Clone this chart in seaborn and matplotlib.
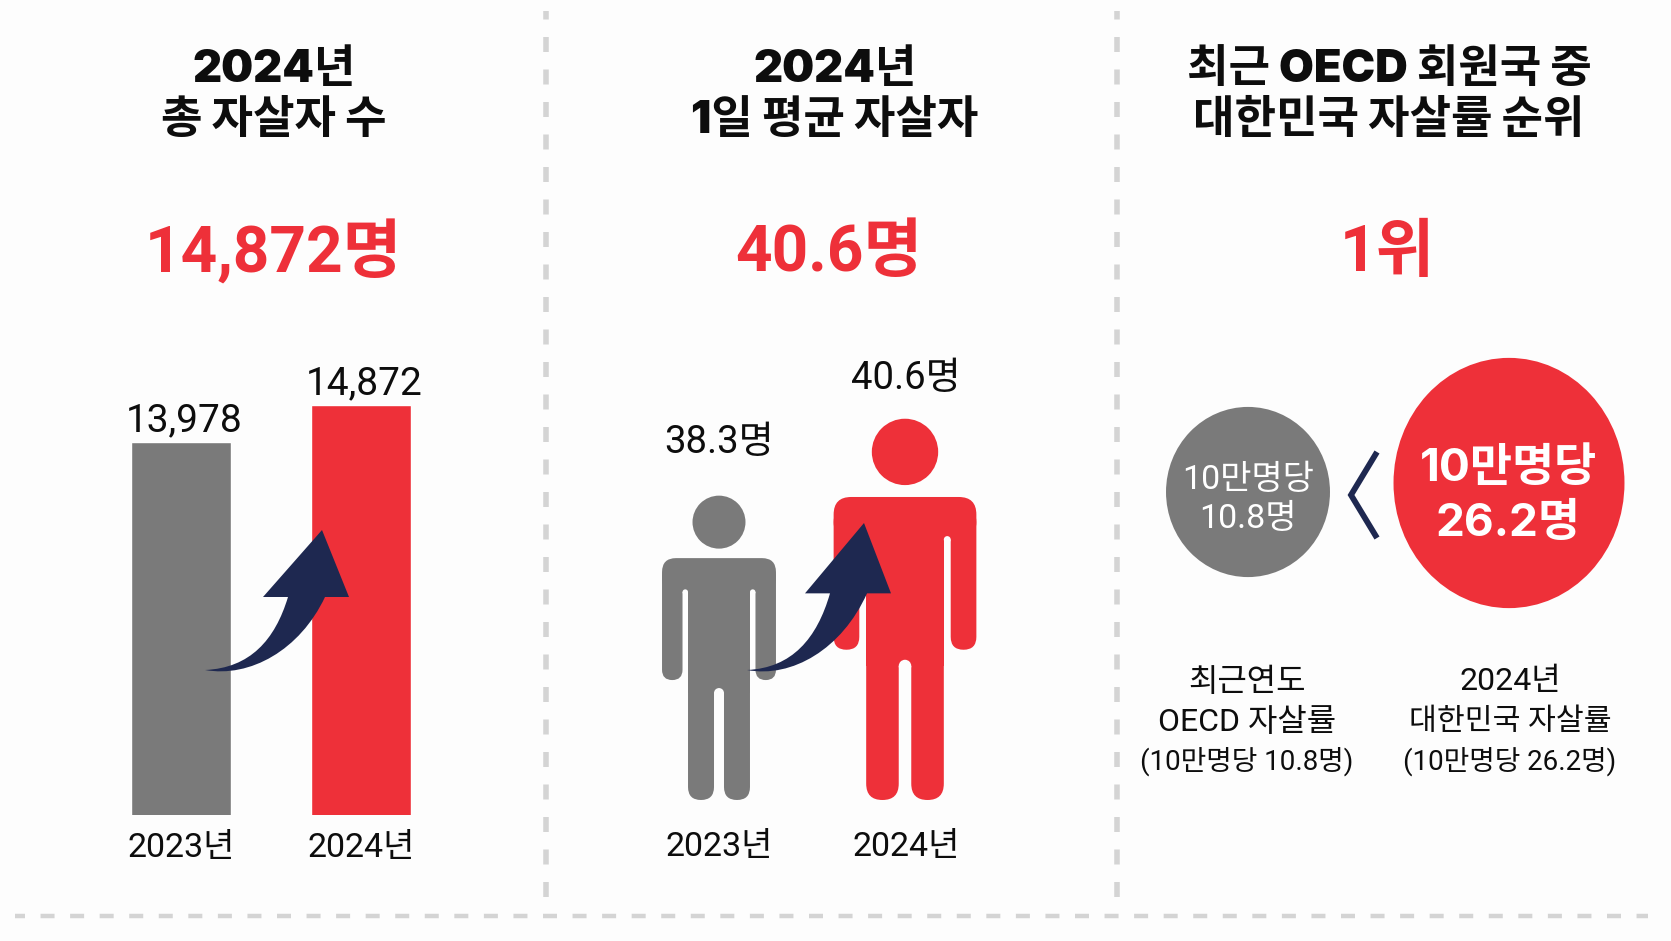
import numpy as np
import pandas as pd
import matplotlib.pyplot as plt
import seaborn as sns
from matplotlib.patches import Circle, Ellipse, FancyBboxPatch, PathPatch, Rectangle
from matplotlib.path import Path

sns.set_theme(style="white")
plt.rcParams["font.family"] = ["Noto Sans CJK KR", "DejaVu Sans"]

years = ["2023년", "2024년"]
total_suicides = [13978, 14872]
daily_suicides = [38.3, 40.6]
oecd_rate = 10.8
korea_rate = 26.2
titles = [["2024년", "총 자살자 수"], ["2024년", "1일 평균 자살자"],
          ["최근 OECD 회원국 중", "대한민국 자살률 순위"]]
headlines = ["14,872명", "40.6명", "1위"]
caption_oecd = ["최근연도", "OECD 자살률", "(10만명당 10.8명)"]
caption_korea = ["2024년", "대한민국 자살률", "(10만명당 26.2명)"]

RED = "#ee3039"
GRAY = "#7a7a7a"
NAVY = "#1e2850"
BG = "#fdfdfd"
INK = "#0d0d0d"
LABEL_FONT = ["Roboto", "Noto Sans CJK KR"]
HEAD_FONT = ["Inter", "Noto Sans CJK KR"]
W, H = 1671, 941

fig = plt.figure(figsize=(W / 100, H / 100), dpi=100, facecolor=BG)
ax = fig.add_axes([0, 0, 1, 1], zorder=5)
ax.set_xlim(0, W)
ax.set_ylim(H, 0)
ax.axis("off")

# dashed separators
for x in [546, 1117]:
    ax.plot([x, x], [11, 897], color="#d4d4d4", lw=4.0, linestyle=(1.17, (2.7, 3.15)), dash_capstyle="butt")
ax.plot([15, 1648], [916, 916], color="#d4d4d4", lw=3.2, linestyle=(0.9, (3.15, 3.5)), dash_capstyle="butt")

# titles and headlines
for cx, lines in zip([274, 835, 1389], titles):
    ax.text(cx, 70, lines[0], ha="center", va="center", fontsize=32.5, fontweight="black", color=INK, family=HEAD_FONT)
    ax.text(cx, 121, lines[1], ha="center", va="center", fontsize=32.5, fontweight="black", color=INK, family=HEAD_FONT)
for cx, s in zip([273, 829, 1387], headlines):
    ax.text(cx, 253, s, ha="center", va="center", fontsize=46, fontweight="bold", color=RED, family=LABEL_FONT)

# bars, baseline is cut so the axes only spans the visible part
base = 4965
px_per_unit = 410 / (14872 - base)
y_top = 16000
ax_h = (y_top - base) * px_per_unit
bar_ax = fig.add_axes([91 / W, (H - 815) / H, 360 / W, ax_h / H])
bar_ax.patch.set_alpha(0)
df = pd.DataFrame({"year": years, "total": total_suicides})
sns.barplot(data=df, x="year", y="total", hue="year", palette=[GRAY, RED], width=0.556,
            legend=False, ax=bar_ax, saturation=1)
bar_ax.set_ylim(base, y_top)
bar_ax.set(xlabel=None, ylabel=None, yticks=[])
bar_ax.tick_params(axis="x", length=0, labelsize=24.5, pad=12, labelcolor=INK)
for lab in bar_ax.get_xticklabels():
    lab.set_family(LABEL_FONT)
sns.despine(ax=bar_ax, left=True, bottom=True)
for c in bar_ax.containers:
    for t in bar_ax.bar_label(c, fmt="{:,.0f}", fontsize=28, padding=2, color=INK, family=LABEL_FONT):
        t.xyann = (2.5, 2)


def person(cx, value, color):
    feet = 800
    s = (value - 29.2) * 33.5 / 305
    top = feet - 305 * s
    parts = [Circle((cx, top + 27 * s), 26.5 * s)]
    shoulder = top + 63 * s
    # shoulders with rounded corners
    parts.append(FancyBboxPatch((cx - 43 * s, shoulder + 14 * s), 86 * s, 6 * s,
                                boxstyle=f"round,pad={14 * s},rounding_size={14 * s}"))
    # arms
    arm_w = 20.5 * s
    arm_end = top + 185 * s
    for x0 in [cx - 57 * s, cx + 57 * s - arm_w]:
        parts.append(FancyBboxPatch((x0 + arm_w / 2, shoulder + 20 * s), 0, arm_end - arm_w / 2 - shoulder - 20 * s,
                                    boxstyle=f"round,pad={arm_w / 2},rounding_size={arm_w / 2}"))
    # torso
    crotch = top + 193 * s
    parts.append(Rectangle((cx - 31 * s, shoulder + 10 * s), 62 * s, crotch + 5 * s - shoulder - 10 * s, lw=0))
    # legs
    leg_w = 26 * s
    for x0 in [cx - 31 * s, cx + 31 * s - leg_w]:
        parts.append(FancyBboxPatch((x0 + leg_w / 2, crotch), 0, feet - leg_w / 2 - crotch,
                                    boxstyle=f"round,pad={leg_w / 2},rounding_size={leg_w / 2}"))
    for p in parts:
        p.set(facecolor=color, edgecolor="none", zorder=2)
        ax.add_patch(p)
    # round tops of the gaps
    ax.add_patch(Circle((cx, crotch + 5 * s), 5 * s, color=BG, lw=0, zorder=3))
    for dx in [-33.75, 33.75]:
        ax.add_patch(Circle((cx + dx * s, shoulder + 34 * s), 2.75 * s, color=BG, lw=0, zorder=3))


def arrow(tx, ty, sy):
    v = [(tx, ty),
         (tx + 45, ty - 2 * sy), (tx + 70, ty - 30 * sy), (tx + 83, ty - 73 * sy),
         (tx + 58, ty - 73 * sy), (tx + 117, ty - 140 * sy), (tx + 144, ty - 73 * sy),
         (tx + 120, ty - 73 * sy),
         (tx + 95, ty - 20 * sy), (tx + 45, ty + 8 * sy), (tx, ty), (tx, ty)]
    c = [Path.MOVETO, Path.CURVE4, Path.CURVE4, Path.CURVE4,
         Path.LINETO, Path.LINETO, Path.LINETO, Path.LINETO,
         Path.CURVE4, Path.CURVE4, Path.CURVE4, Path.CLOSEPOLY]
    ax.add_patch(PathPatch(Path(v, c), facecolor=NAVY, edgecolor="none", zorder=5))


arrow(205, 670, 1.0)

# people
for cx, v, col, lx, ly in zip([719, 905], daily_suicides, [GRAY, RED], [719, 906], [442, 379]):
    person(cx, v, col)
    ax.text(lx, ly, f"{v}명", ha="center", va="center", fontsize=27.5, color=INK, family=LABEL_FONT)
for cx, y in zip([719, 906], years):
    ax.text(cx, 847, y, ha="center", va="center", fontsize=24.5, color=INK, family=LABEL_FONT)
arrow(747, 670, 1.05)

# rate circles
ax.add_patch(Ellipse((1248, 492), 2 * (58.5 + 2.175 * oecd_rate), 2 * (57 + 2.6 * oecd_rate), color=GRAY, lw=0))
ax.add_patch(Ellipse((1509, 483), 2 * (58.5 + 2.175 * korea_rate), 2 * (57 + 2.6 * korea_rate), color=RED, lw=0))
ax.plot([1377, 1351, 1377], [452, 495, 538], color=NAVY, lw=4.2, solid_joinstyle="miter", solid_capstyle="butt")
ax.text(1248, 480, "10만명당", ha="center", va="center", fontsize=24.5, color="white", family=LABEL_FONT)
ax.text(1248, 519, f"{oecd_rate}명", ha="center", va="center", fontsize=24.5, color="white", family=LABEL_FONT)
ax.text(1508, 469, "10만명당", ha="center", va="center", fontsize=33, fontweight="bold", color="white", family=HEAD_FONT)
ax.text(1508, 524, f"{korea_rate}명", ha="center", va="center", fontsize=33, fontweight="bold", color="white", family=HEAD_FONT)
for cx, lines, sizes in zip([1247, 1510], [caption_oecd, caption_korea], [[23, 23, 20], [23, 21.8, 20]]):
    for y, s, fs in zip([682, 722, 761], lines, sizes):
        ax.text(cx, y, s, ha="center", va="center", fontsize=fs, color=INK, family=LABEL_FONT)

fig.savefig("out.png", dpi=100, facecolor=BG)
